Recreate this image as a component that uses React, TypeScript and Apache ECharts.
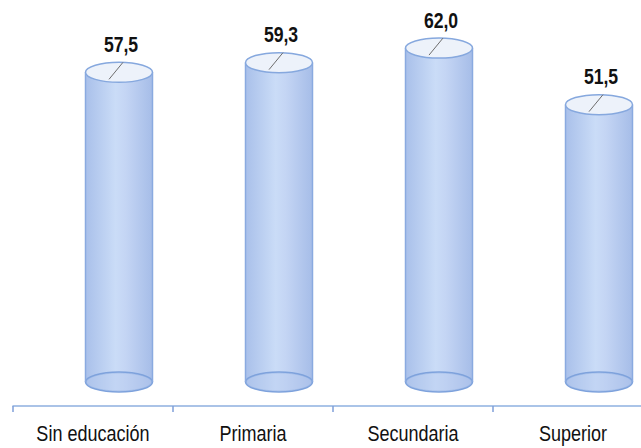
import React, { useEffect, useRef } from "react";
import * as echarts from "echarts";

const categories = ["Sin educación", "Primaria", "Secundaria", "Superior"];
const values = [57.5, 59.3, 62.0, 51.5];
const valueLabels = ["57,5", "59,3", "62,0", "51,5"];

const FONT = "'Liberation Sans', Arial, sans-serif";
const Y_MIN = -4.456;

export default function App() {
  const ref = useRef<HTMLDivElement>(null);
  useEffect(() => {
    if (!ref.current) return;
    const chart = echarts.init(ref.current, undefined, { renderer: "svg" });
    const bodyGrad = () =>
      new echarts.graphic.LinearGradient(0, 0, 1, 0, [
        { offset: 0, color: "#a9c0ea" },
        { offset: 0.45, color: "#cadcf7" },
        { offset: 0.6, color: "#c4d5f4" },
        { offset: 1, color: "#a6bde8" },
      ]);
    chart.setOption({
      animation: false,
      grid: { left: 13, right: -12, top: 5, bottom: 42, outerBoundsMode: "none", containLabel: false },
      xAxis: {
        type: "category",
        data: categories,
        axisLine: { onZero: false, lineStyle: { color: "#8eb0e0", width: 1.5 } },
        axisTick: { show: true, length: 6, lineStyle: { color: "#7f9fd8", width: 1.5 } },
        axisLabel: { show: false },
      },
      yAxis: { type: "value", min: Y_MIN, max: 70, show: false, splitLine: { show: false } },
      series: [
        {
          type: "custom",
          clip: false,
          data: values.map((v, i) => [i, v]),
          renderItem: (params: any, api: any) => {
            const i = api.value(0);
            const v = api.value(1);
            const top = api.coord([i, v]);
            const bot = api.coord([i, 0]);
            const axisY = api.coord([i, Y_MIN])[1];
            const cx = top[0] + 26;
            const rx = 33.5;
            const ry = 10;
            const ty = top[1];
            const by = bot[1];
            return {
              type: "group",
              children: [
                {
                  type: "rect",
                  shape: { x: cx - rx, y: ty, width: rx * 2, height: by - ty },
                  style: { fill: bodyGrad() },
                },
                {
                  type: "ellipse",
                  shape: { cx, cy: by, rx, ry },
                  style: { fill: bodyGrad(), stroke: "#7ea2dc", lineWidth: 1.5 },
                },
                {
                  type: "ellipse",
                  shape: { cx, cy: by, rx: rx - 1, ry: ry - 1 },
                  style: { fill: "rgba(180,200,238,0.35)", stroke: "rgba(126,162,220,0.35)", lineWidth: 1 },
                },
                {
                  type: "line",
                  shape: { x1: cx - rx, y1: ty, x2: cx - rx, y2: by },
                  style: { stroke: "#8aaae0", lineWidth: 1.5 },
                },
                {
                  type: "line",
                  shape: { x1: cx + rx, y1: ty, x2: cx + rx, y2: by },
                  style: { stroke: "#8aaae0", lineWidth: 1.5 },
                },
                {
                  type: "ellipse",
                  shape: { cx, cy: ty, rx, ry },
                  style: { fill: "#edf2fa", stroke: "#86a8de", lineWidth: 1.5 },
                },
                {
                  type: "line",
                  shape: { x1: cx + 4, y1: ty - 10, x2: cx - 10, y2: ty + 7 },
                  style: { stroke: "#6d6d6d", lineWidth: 1 },
                },
                {
                  type: "text",
                  x: cx + 2,
                  y: ty - 28,
                  scaleX: 0.8,
                  style: {
                    x: 0,
                    y: 0,
                    text: valueLabels[i],
                    fill: "#111",
                    font: "bold 22px " + FONT,
                    align: "center",
                    verticalAlign: "middle",
                  },
                },
                {
                  type: "text",
                  x: top[0],
                  y: axisY + 27,
                  scaleX: 0.82,
                  style: {
                    x: 0,
                    y: 0,
                    text: categories[i],
                    fill: "#111",
                    font: "22px " + FONT,
                    align: "center",
                    verticalAlign: "middle",
                  },
                },
              ],
            };
          },
        },
      ],
    });
    return () => chart.dispose();
  }, []);
  return <div ref={ref} style={{ width: 641, height: 448, position: "absolute", left: 0, top: 0 }} />;
}
